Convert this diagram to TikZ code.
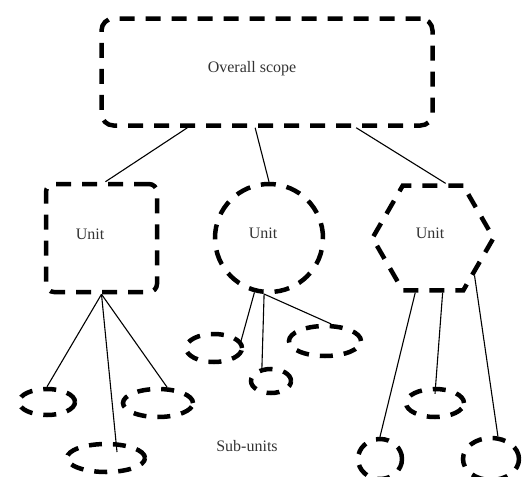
\documentclass[tikz,border=0pt]{standalone}
\usepackage{fontspec}
\setmainfont{Liberation Serif}
\usetikzlibrary{shapes.geometric}

\begin{document}
\begin{tikzpicture}
    [x=1pt,y=-1pt,
    every node/.style={font=\fontsize{16}{18}\selectfont,text=black!80},
    part/.style={draw,line width=4.5pt,dash pattern=on 15pt off 11pt,inner sep=0pt},
    sub/.style={part,ellipse,dash pattern=on 13pt off 11pt},
    link/.style={line width=1.1pt}]
    \useasboundingbox (0,0) rectangle (523,477);
    \node [part,rounded corners=12pt,minimum width=331pt,minimum height=107pt,
        label={[xshift=-15pt,yshift=3pt]center:Overall scope}] (scope) at (267,72) {};
    \node [part,rounded corners=8pt,minimum width=111pt,minimum height=108pt,
        label={[xshift=-11.5pt,yshift=4pt]center:Unit}] (ua) at (101.5,238) {};
    \node [part,circle,minimum size=108pt,
        label={[xshift=-6pt,yshift=5pt]center:Unit}] (ub) at (269,238) {};
    \node [part,regular polygon,regular polygon sides=6,minimum size=121pt,
        label={[xshift=-3pt,yshift=5pt]center:Unit}] (uc) at (433,238) {};
    \node [sub,minimum width=56pt,minimum height=26pt] (sa) at (47,402) {};
    \node [sub,minimum width=78pt,minimum height=28pt] (sb) at (106,458) {};
    \node [sub,minimum width=70pt,minimum height=28pt] (sc) at (158,403) {};
    \node [sub,minimum width=56pt,minimum height=28pt] (ca) at (214,348) {};
    \node [sub,minimum width=40pt,minimum height=24pt] (cb) at (271,381) {};
    \node [sub,minimum width=72pt,minimum height=30pt] (cc) at (325,341) {};
    \node [sub,minimum width=44pt,minimum height=40pt] (hl) at (380,459) {};
    \node [sub,minimum width=58pt,minimum height=28pt] (hm) at (435,403) {};
    \node [sub,minimum width=56pt,minimum height=42pt] (hr) at (491,459) {};
    \node (subunits) at (247,446) {Sub-units};
    \draw [link] (scope.215) -- (ua.86);
    \draw [link] (scope.258) -- (ub.north);
    \draw [link] (scope.328) -- (uc.77);
    \draw [link] (ua.south) -- (sa.north);
    \draw [link] (ua.south) -- ([xshift=11pt,yshift=6pt]sb.center);
    \draw [link] (ua.south) -- (sc.60);
    \draw [link] (ub.255) -- (ca.15);
    \draw [link] (ub.265) -- (cb.125);
    \draw [link] (ub.265) -- (cc.70);
    \draw [link] (uc.252) -- (hl.north);
    \draw [link] (uc.280) -- ([yshift=-7pt]hm.north);
    \draw [link] (uc.318) -- (hr.73);
\end{tikzpicture}
\end{document}
